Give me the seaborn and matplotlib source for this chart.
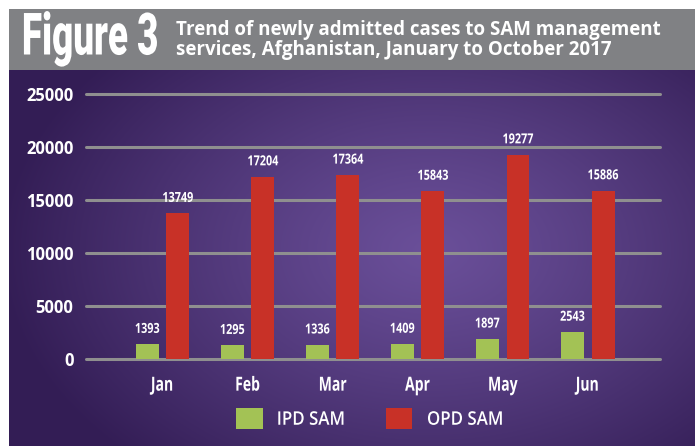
import numpy as np
import pandas as pd
import matplotlib
matplotlib.use("Agg")
import matplotlib.pyplot as plt
import seaborn as sns
from matplotlib.patches import Rectangle
from matplotlib.patheffects import AbstractPathEffect
from matplotlib.transforms import Affine2D, Bbox

# dados
meses = ["Jan", "Feb", "Mar", "Apr", "May", "Jun"]
ipd_sam = [1393, 1295, 1336, 1409, 1897, 2543]
opd_sam = [13749, 17204, 17364, 15843, 19277, 15886]
series = ["IPD SAM", "OPD SAM"]
cores = ["#a3c255", "#c83127"]
yticks = [0, 5000, 10000, 15000, 20000, 25000]

df = pd.DataFrame({
    "mes": meses * 2,
    "serie": [series[0]] * len(meses) + [series[1]] * len(meses),
    "valor": ipd_sam + opd_sam,
})


class Estreitar(AbstractPathEffect):
    # comprime o texto na horizontal em volta do centro (fonte condensada)
    def __init__(self, sx):
        super().__init__()
        self.sx = sx

    def draw_path(self, renderer, gc, tpath, affine, rgbFace=None):
        ext = tpath.get_extents()
        cx = (ext.x0 + ext.x1) / 2
        t = Affine2D().translate(-cx, 0).scale(self.sx, 1).translate(cx, 0)
        renderer.draw_path(gc, tpath, t + affine, rgbFace)


def estreitar(txt, sx):
    txt.set_path_effects([Estreitar(sx)])
    original = txt.get_window_extent

    def extent(renderer=None, dpi=None):
        bb = original(renderer, dpi)
        cx = (bb.x0 + bb.x1) / 2
        hw = bb.width * sx / 2
        return Bbox([[cx - hw, bb.y0], [cx + hw, bb.y1]])

    txt.get_window_extent = extent


sns.set_style("white")
plt.rcParams["font.family"] = ["Open Sans", "DejaVu Sans"]

W, H = 695, 446
fig = plt.figure(figsize=(W / 100, H / 100), dpi=100)
fig.patch.set_facecolor("white")

# fundo roxo com gradiente radial
bg = fig.add_axes([9 / W, 0, 1 - 9 / W, (H - 70) / H])
yy, xx = np.mgrid[0:376, 0:686]
d = np.sqrt(((xx - 420) / 430) ** 2 + ((yy - 180) / 290) ** 2)
t = np.clip(d, 0, 1) ** 1.2
c_centro = np.array([0x6a, 0x4f, 0x99]) / 255
c_borda = np.array([0x33, 0x1d, 0x55]) / 255
img = c_centro[None, None, :] * (1 - t[..., None]) + c_borda[None, None, :] * t[..., None]
bg.imshow(img, aspect="auto", extent=[0, 1, 0, 1], origin="upper")
bg.axis("off")

# faixa cinza do titulo
fig.patches.append(Rectangle((9 / W, (H - 70) / H), 1 - 9 / W, 61 / H,
                             transform=fig.transFigure, facecolor="#808184",
                             edgecolor="none", zorder=0))
fig_txt = fig.text(90 / W, (H - 39) / H, "Figure 3", color="white", fontsize=42,
                   fontweight="heavy", va="center", ha="center", family="Roboto")
estreitar(fig_txt, 0.63)
fig.text(176 / W, (H - 40) / H,
         "Trend of newly admitted cases to SAM management\nservices, Afghanistan, January to October 2017",
         color="white", fontsize=13.5, fontweight="bold", va="center", ha="left",
         linespacing=0.95)

ax = fig.add_axes([86 / W, (H - 359) / H, (660 - 86) / W, (359 - 94) / H])
ax.set_facecolor("none")
sns.barplot(data=df, x="mes", y="valor", hue="serie", palette=cores,
            width=0.72, gap=0.25, ax=ax, legend=True, saturation=1,
            edgecolor="none", linewidth=0)

for v in yticks:
    ax.axhline(v, color="#8f8f8f", lw=2.2, zorder=0, clip_on=False)

for cont in ax.containers:
    labs = ax.bar_label(cont, fmt="%d", padding=6, color="white", fontsize=10,
                        fontweight="bold")
    for lab in labs:
        estreitar(lab, 0.78)

ax.set_ylim(0, 25000)
ax.set_xlim(-0.9, 5.85)
ax.set_yticks(yticks)
ax.set_yticklabels([str(v) for v in yticks], fontweight="bold", fontsize=12,
                   color="white")
ax.tick_params(axis="y", length=0, pad=9)
ax.tick_params(axis="x", length=0, pad=12, labelsize=14, labelcolor="white")
for lab in ax.get_xticklabels():
    lab.set_fontweight("bold")
    lab.set_path_effects([Estreitar(0.72)])
ax.set_xlabel("")
ax.set_ylabel("")
for s in ax.spines.values():
    s.set_visible(False)

handles, labels = ax.get_legend_handles_labels()
ax.get_legend().remove()
leg = fig.legend(handles, labels, loc="center", bbox_to_anchor=(372 / W, (H - 419) / H),
                 ncol=2, frameon=False, handlelength=1.4, handleheight=1.3,
                 columnspacing=2.0, handletextpad=0.55, labelcolor="white",
                 prop={"size": 13.5, "weight": "semibold"})
for txt in leg.get_texts():
    txt.set_path_effects([Estreitar(0.9)])

fig.savefig("out.png", dpi=100)
